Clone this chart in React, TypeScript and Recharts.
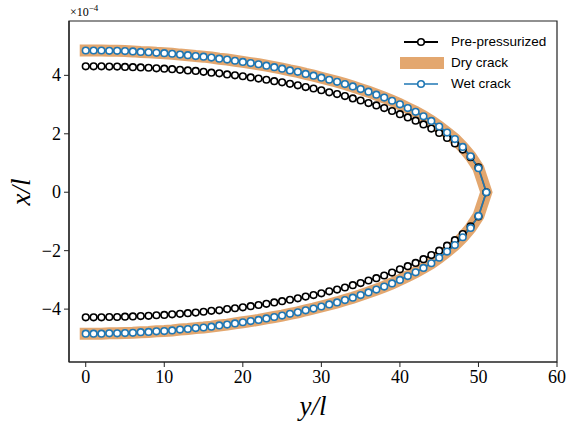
import React from "react";
import { LineChart, Line, XAxis, YAxis, Legend, Label, ReferenceArea } from "recharts";

// y/l positions along the crack (upper and lower faces share them)
const Y_POS = [
  0, 1, 2, 3, 4, 5, 6, 7, 8, 9, 10, 11, 12, 13, 14, 15, 16, 17, 18, 19, 20, 21, 22, 23, 24, 25,
  26, 27, 28, 29, 30, 31, 32, 33, 34, 35, 36, 37, 38, 39, 40, 41, 42, 43, 44, 45, 46, 47, 48, 49, 50, 51,
];

// x/l in units of 1e-4
const WET_UPPER = [
  4.85, 4.85, 4.85, 4.84, 4.84, 4.83, 4.82, 4.8, 4.79, 4.77, 4.76, 4.74, 4.71, 4.69, 4.66, 4.64,
  4.61, 4.57, 4.54, 4.5, 4.46, 4.42, 4.38, 4.33, 4.28, 4.23, 4.17, 4.12, 4.05, 3.99, 3.92, 3.85,
  3.78, 3.7, 3.62, 3.53, 3.44, 3.34, 3.24, 3.13, 3.01, 2.88, 2.75, 2.6, 2.44, 2.25, 2.04, 1.82,
  1.55, 1.23, 0.82, 0,
];
const WET_LOWER = [
  -4.84, -4.84, -4.84, -4.83, -4.83, -4.82, -4.81, -4.79, -4.78, -4.76, -4.75, -4.73, -4.7, -4.68,
  -4.65, -4.63, -4.6, -4.56, -4.53, -4.49, -4.45, -4.41, -4.37, -4.32, -4.27, -4.22, -4.16, -4.11,
  -4.04, -3.98, -3.91, -3.84, -3.77, -3.69, -3.61, -3.52, -3.43, -3.33, -3.23, -3.12, -3.0, -2.87,
  -2.74, -2.59, -2.43, -2.24, -2.03, -1.81, -1.54, -1.22, -0.81, 0,
];
const DRY_UPPER = WET_UPPER;
const DRY_LOWER = WET_LOWER;
const PRE_UPPER = [
  4.31, 4.31, 4.31, 4.3, 4.3, 4.29, 4.28, 4.27, 4.26, 4.24, 4.23, 4.21, 4.19, 4.17, 4.15, 4.12,
  4.09, 4.07, 4.03, 4.0, 3.97, 3.93, 3.89, 3.85, 3.8, 3.76, 3.71, 3.66, 3.6, 3.55, 3.49, 3.42,
  3.36, 3.29, 3.21, 3.14, 3.05, 2.97, 2.88, 2.78, 2.67, 2.56, 2.45, 2.32, 2.18, 2.03, 1.86, 1.67,
  1.46, 1.2, 0.85, 0,
];
const PRE_LOWER = [
  -4.28, -4.28, -4.28, -4.27, -4.27, -4.26, -4.25, -4.24, -4.23, -4.21, -4.2, -4.18, -4.16, -4.14,
  -4.12, -4.09, -4.06, -4.04, -4.0, -3.97, -3.94, -3.9, -3.86, -3.82, -3.77, -3.73, -3.68, -3.63,
  -3.57, -3.52, -3.46, -3.39, -3.33, -3.26, -3.18, -3.11, -3.02, -2.94, -2.85, -2.75, -2.64, -2.53,
  -2.42, -2.29, -2.15, -2.0, -1.83, -1.64, -1.43, -1.17, -0.83, 0,
];

const X_TICKS = [0, 10, 20, 30, 40, 50, 60];
const Y_TICKS = [-4, -2, 0, 2, 4];
const X_DOMAIN = [-2.13, 60];
const Y_DOMAIN = [-5.81, 5.86];

const BLUE = "#1f77b4";
const ORANGE = "#d98a3f";
const SERIF = "'Liberation Serif', 'DejaVu Serif', serif";
const SANS = "'Liberation Sans', 'DejaVu Sans', sans-serif";

// walk the upper face out to the tip, then back along the lower face
function closedPath(upper: number[], lower: number[]) {
  const pts = Y_POS.map((y, i) => ({ y, x: upper[i] }));
  for (let i = Y_POS.length - 2; i >= 0; i--) pts.push({ y: Y_POS[i], x: lower[i] });
  return pts;
}

const preData = closedPath(PRE_UPPER, PRE_LOWER);
const dryData = closedPath(DRY_UPPER, DRY_LOWER);
const wetData = closedPath(WET_UPPER, WET_LOWER);

const minus = (v: number) => String(v).replace("-", "\u2212");

const tickText: React.CSSProperties = { fontFamily: SERIF, fontSize: 18 };
const labelText: React.CSSProperties = { fontFamily: SERIF, fontSize: 27, fontStyle: "italic" };

const renderXTick = (props: any) => (
  <text key={props.index} x={props.x} y={props.y + 14} textAnchor="middle" style={tickText} fill="#000">
    {props.payload.value}
  </text>
);

const renderYTick = (props: any) => (
  <text key={props.index} x={props.x - 1} y={props.y + 6} textAnchor="end" style={tickText} fill="#000">
    {minus(props.payload.value)}
  </text>
);

function LegendBox() {
  const row: React.CSSProperties = { display: "flex", alignItems: "center", height: 21, whiteSpace: "nowrap" };
  const txt: React.CSSProperties = { fontFamily: SANS, fontSize: 13.5, color: "#000", marginLeft: 7 };
  return (
    <div style={{ position: "absolute", left: 400, top: 31, width: 160 }}>
      <div style={row}>
        <svg width={44} height={12}>
          <line x1={4} y1={6} x2={38} y2={6} stroke="#000" strokeWidth={2} />
          <circle cx={21} cy={6} r={3.3} fill="#fff" stroke="#000" strokeWidth={1.6} />
        </svg>
        <span style={txt}>Pre-pressurized</span>
      </div>
      <div style={row}>
        <svg width={44} height={12}>
          <rect x={0} y={0} width={44} height={12} fill={ORANGE} fillOpacity={0.75} />
        </svg>
        <span style={txt}>Dry crack</span>
      </div>
      <div style={row}>
        <svg width={44} height={12}>
          <line x1={4} y1={6} x2={38} y2={6} stroke={BLUE} strokeWidth={1.6} />
          <circle cx={21} cy={6} r={3.3} fill="#fff" stroke={BLUE} strokeWidth={1.6} />
        </svg>
        <span style={txt}>Wet crack</span>
      </div>
    </div>
  );
}

export default function App() {
  return (
    <div style={{ position: "absolute", left: 0, top: 0, width: 567, height: 423, background: "#fff" }}>
      <LineChart width={567} height={423} margin={{ top: 21, right: 10, bottom: 31, left: 29 }}>
        <XAxis
          dataKey="y"
          type="number"
          domain={X_DOMAIN}
          ticks={X_TICKS}
          allowDataOverflow
          height={30}
          tickSize={5}
          tick={renderXTick}
          axisLine={{ stroke: "#222", strokeWidth: 1.2 }}
          tickLine={{ stroke: "#222", strokeWidth: 1 }}
        >
          <Label
            content={() => (
              <text x={313} y={415} textAnchor="middle" style={labelText} fill="#000">
                y/l
              </text>
            )}
          />
        </XAxis>
        <YAxis
          type="number"
          domain={Y_DOMAIN}
          ticks={Y_TICKS}
          allowDataOverflow
          width={40}
          tickSize={5}
          tick={renderYTick}
          axisLine={{ stroke: "#222", strokeWidth: 1.2 }}
          tickLine={{ stroke: "#222", strokeWidth: 1 }}
        >
          <Label
            content={() => (
              <g>
                <text x={0} y={0} transform="translate(30,192) rotate(-90)" textAnchor="middle" style={labelText} fill="#000">
                  x/l
                </text>
                <text x={70} y={16} style={{ fontFamily: SERIF, fontSize: 12 }} fill="#000">
                  ×10
                  <tspan dy={-5} style={{ fontSize: 9 }}>
                    −4
                  </tspan>
                </text>
              </g>
            )}
          />
        </YAxis>
        <ReferenceArea
          x1={X_DOMAIN[0]}
          x2={X_DOMAIN[1]}
          y1={Y_DOMAIN[0]}
          y2={Y_DOMAIN[1]}
          fill="none"
          stroke="#222"
          strokeWidth={1.2}
          ifOverflow="visible"
        />
        <Legend content={() => <LegendBox />} wrapperStyle={{ position: "absolute", left: 0, top: 0, width: 0, height: 0 }} />
        <Line
          data={preData}
          dataKey="x"
          stroke="#000"
          strokeWidth={1.8}
          dot={{ r: 3.3, fill: "#fff", stroke: "#000", strokeWidth: 1.6 }}
          activeDot={false}
          isAnimationActive={false}
          legendType="none"
        />
        <Line
          data={dryData}
          dataKey="x"
          stroke={ORANGE}
          strokeOpacity={0.75}
          strokeWidth={12}
          strokeLinecap="square"
          strokeLinejoin="miter"
          dot={false}
          activeDot={false}
          isAnimationActive={false}
          legendType="none"
        />
        <Line
          data={wetData}
          dataKey="x"
          stroke={BLUE}
          strokeWidth={1.6}
          dot={{ r: 3.3, fill: "#fff", stroke: BLUE, strokeWidth: 1.6 }}
          activeDot={false}
          isAnimationActive={false}
          legendType="none"
        />
      </LineChart>
    </div>
  );
}
